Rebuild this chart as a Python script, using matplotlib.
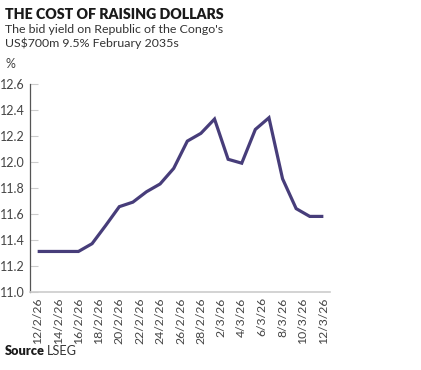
import numpy as np
import pandas as pd
import matplotlib
matplotlib.use("Agg")
import matplotlib.pyplot as plt

plt.rcParams["font.family"] = ["Lato", "DejaVu Sans"]

# data
start_date = "2026-02-12"
end_date = "2026-03-12"
yields = [11.31, 11.31, 11.31, 11.31, 11.37, 11.51, 11.655, 11.69, 11.77, 11.83, 11.95,
          12.16, 12.22, 12.33, 12.02, 11.99, 12.25, 12.34, 11.87, 11.64, 11.58, 11.58]
y_ticks = [11.0, 11.2, 11.4, 11.6, 11.8, 12.0, 12.2, 12.4, 12.6]

days = pd.date_range(start_date, end_date, freq="D")
n_days = len(days) - 1
x = np.linspace(0, n_days, len(yields))
tick_dates = pd.date_range(start_date, end_date, freq="2D")
tick_pos = [(d - days[0]).days for d in tick_dates]
tick_labels = [f"{d.day}/{d.month}/{d.strftime('%y')}" for d in tick_dates]

LINE = "#473d7a"
TEXT = "#1a1a1a"
GREY = "#444444"

fig = plt.figure(figsize=(4.21, 3.70), dpi=100)
ax = fig.add_axes([30 / 421, 1 - 291.7 / 370, 300 / 421, (291.7 - 84) / 370])

ax.plot(x, yields, color=LINE, lw=2.3, solid_joinstyle="miter", solid_capstyle="butt")

ax.set_xlim(-0.75, n_days + 0.65)
ax.set_ylim(11.0, 12.6)
ax.set_yticks(y_ticks)
ax.set_yticklabels([f"{v:.1f}" for v in y_ticks], fontsize=9, color=GREY)
ax.set_xticks(tick_pos)
ax.set_xticklabels(tick_labels, rotation=90, fontsize=8.8, color=GREY, va="top", ha="center")
ax.tick_params(axis="y", direction="in", length=6, width=0.8, color="#cccccc", pad=4)
ax.tick_params(axis="x", length=0, pad=4)

for s in ["top", "right"]:
    ax.spines[s].set_visible(False)
ax.spines["left"].set_color("#555555")
ax.spines["left"].set_linewidth(0.9)
ax.spines["bottom"].set_color("#cccccc")
ax.spines["bottom"].set_linewidth(1.2)

fig.text(5 / 421, 1 - 19 / 370, "THE COST OF RAISING DOLLARS", fontsize=10.2,
         fontweight="heavy", color=TEXT, va="baseline")
fig.text(5 / 421, 1 - 33 / 370, "The bid yield on Republic of the Congo's", fontsize=8.9,
         color="#333333", va="baseline")
fig.text(5 / 421, 1 - 47 / 370, "US$700m 9.5% February 2035s", fontsize=8.9,
         color="#333333", va="baseline")
fig.text(5 / 421, 1 - 68 / 370, "%", fontsize=9, color=GREY, va="baseline")

t = fig.text(5 / 421, 1 - 355 / 370, "Source", fontsize=9.2, fontweight="heavy",
             color=TEXT, va="baseline")
fig.canvas.draw()
bb = t.get_window_extent()
fig.text(bb.x1 / fig.bbox.width + 2 / 421, 1 - 355 / 370, "LSEG", fontsize=9.2,
         color="#333333", va="baseline")

fig.savefig("out.png", dpi=100)
